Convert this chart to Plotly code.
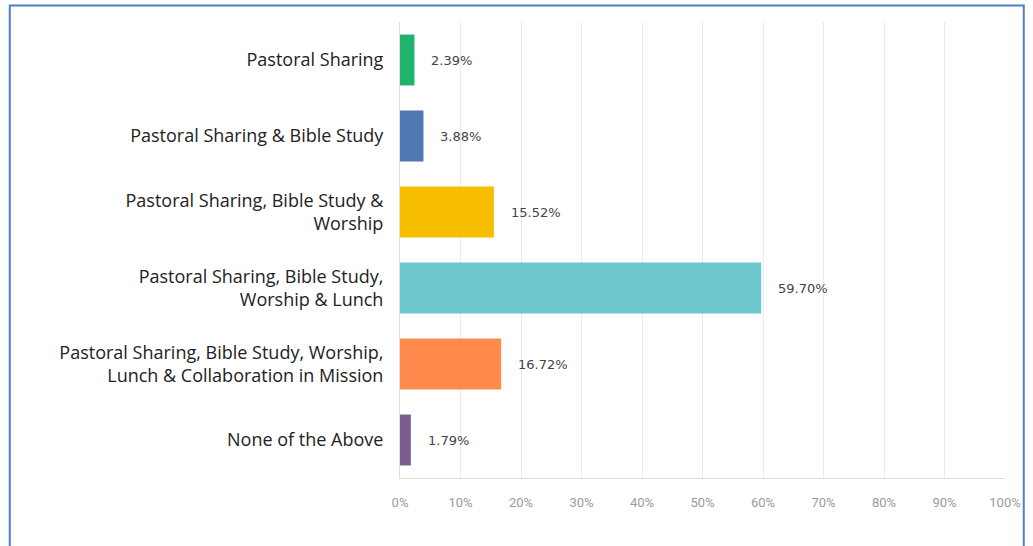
import plotly.graph_objects as go

# Survey answers (top to bottom) and their share of respondents
categories = [
    "Pastoral Sharing",
    "Pastoral Sharing & Bible Study",
    "Pastoral Sharing, Bible Study &<br>Worship",
    "Pastoral Sharing, Bible Study,<br>Worship & Lunch",
    "Pastoral Sharing, Bible Study, Worship,<br>Lunch & Collaboration in Mission",
    "None of the Above",
]
percentages = [2.39, 3.88, 15.52, 59.70, 16.72, 1.79]
bar_colors = ["#1fb36b", "#5079b4", "#f7be00", "#6cc8cc", "#ff8a4c", "#7b5c8e"]

tick_values = list(range(0, 101, 10))
tick_labels = [f"{v}%" for v in tick_values]

fig = go.Figure(
    go.Bar(
        x=percentages,
        y=categories,
        orientation="h",
        marker=dict(color=bar_colors, line=dict(width=0)),
        hoverinfo="skip",
    )
)

# Value labels placed a little to the right of each bar end
for cat, val in zip(categories, percentages):
    fig.add_annotation(
        x=val, y=cat, text=f"{val:.2f}%", showarrow=False,
        xanchor="left", xshift=15,
        font=dict(family="DejaVu Sans", size=13, color="#444444"),
    )

# Outer blue frame around the chart
fig.add_shape(
    type="rect", xref="paper", yref="paper",
    x0=-0.645, x1=1.031, y0=-0.16, y1=1.036,
    line=dict(color="#4f7fc8", width=2), fillcolor="rgba(0,0,0,0)",
    layer="above",
)

fig.update_layout(
    width=1033, height=546,
    margin=dict(l=400, r=25, t=22, b=68),
    paper_bgcolor="white", plot_bgcolor="white",
    bargap=0.33,
    showlegend=False,
    xaxis=dict(
        range=[0, 100],
        tickvals=tick_values, ticktext=tick_labels,
        showgrid=True, gridcolor="#ebebeb", gridwidth=1,
        zeroline=False,
        showline=True, linecolor="#dddddd", linewidth=1,
        ticks="", ticklabelstandoff=12,
        tickfont=dict(family="Roboto", size=13, color="#9a9a9a"),
        fixedrange=True,
    ),
    yaxis=dict(
        autorange="reversed",
        showline=True, linecolor="#dddddd", linewidth=1,
        showgrid=False, zeroline=False, ticks="",
        ticklabelstandoff=12,
        tickfont=dict(family="Open Sans", size=18, color="#222222"),
        fixedrange=True,
    ),
)

fig.write_html("out.html")
